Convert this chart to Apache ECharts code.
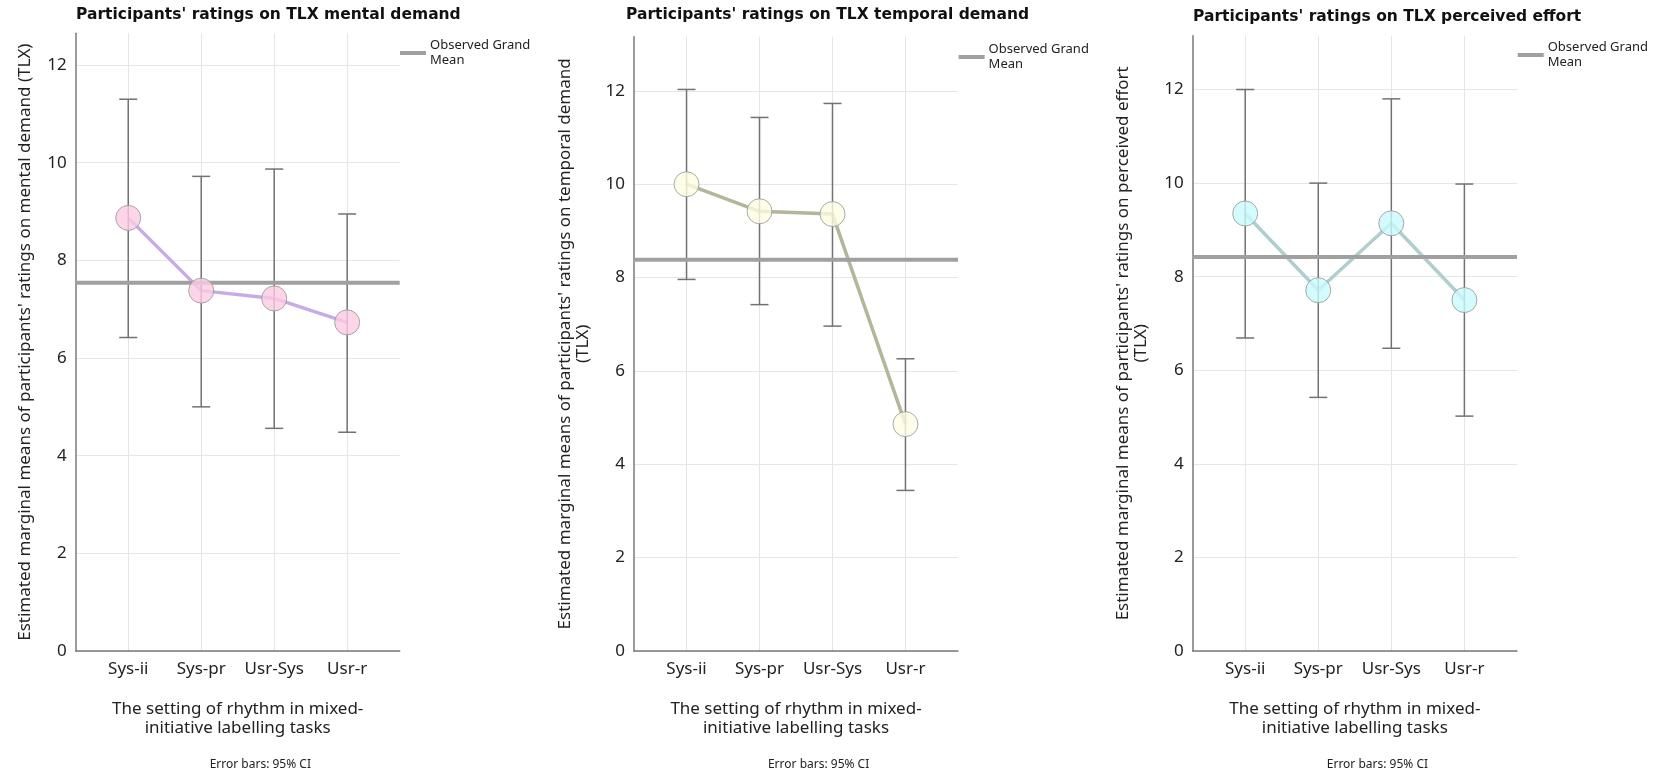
<!DOCTYPE html>
<html>
<head>
<meta charset="utf-8">
<title>TLX ratings</title>
<script src="https://cdn.jsdelivr.net/npm/echarts@6/dist/echarts.min.js"></script>
<style>
  html, body { margin: 0; padding: 0; background: #fff; }
  #chart { width: 1667px; height: 775px; }
</style>
</head>
<body>
<div id="chart"></div>
<script>
// categories on the x axis
const categories = ["Sys-ii", "Sys-pr", "Usr-Sys", "Usr-r"];
const yTicks = [0, 2, 4, 6, 8, 10, 12];

// mental demand
const mentalMean = [8.87, 7.38, 7.22, 6.73];
const mentalLow = [6.42, 5.0, 4.56, 4.48];
const mentalHigh = [11.3, 9.72, 9.87, 8.95];
const mentalGrand = 7.54;

// temporal demand
const temporalMean = [10.0, 9.42, 9.36, 4.86];
const temporalLow = [7.96, 7.42, 6.96, 3.44];
const temporalHigh = [12.03, 11.43, 11.73, 6.26];
const temporalGrand = 8.38;

// perceived effort
const effortMean = [9.35, 7.71, 9.14, 7.5];
const effortLow = [6.69, 5.42, 6.47, 5.02];
const effortHigh = [12.0, 10.0, 11.8, 9.98];
const effortGrand = 8.42;

const font = "Noto Sans";
const errColor = "#727272";

const panels = [
  {
    title: "Participants' ratings on TLX mental demand",
    yName: "Estimated marginal means of participants' ratings on mental demand (TLX)",
    mean: mentalMean, low: mentalLow, high: mentalHigh, grand: mentalGrand,
    yMax: 12.65,
    lineColor: "#c8abe6", fill: "#fdcbe3",
    grid: { left: 75.7, top: 33.3, width: 324 },
    titlePos: { left: 76, top: 7 },
    legendPos: { left: 400, top: 38 },
  },
  {
    title: "Participants' ratings on TLX temporal demand",
    yName: "Estimated marginal means of participants' ratings on temporal demand\n(TLX)",
    mean: temporalMean, low: temporalLow, high: temporalHigh, grand: temporalGrand,
    yMax: 13.16,
    lineColor: "#b5b599", fill: "#fdfde2",
    grid: { left: 634, top: 36.7, width: 324 },
    titlePos: { left: 626, top: 7 },
    legendPos: { left: 958.6, top: 42 },
  },
  {
    title: "Participants' ratings on TLX perceived effort",
    yName: "Estimated marginal means of participants' ratings on perceived effort\n(TLX)",
    mean: effortMean, low: effortLow, high: effortHigh, grand: effortGrand,
    yMax: 13.15,
    lineColor: "#b0cece", fill: "#c9fafc",
    grid: { left: 1192.6, top: 35.7, width: 324.4 },
    titlePos: { left: 1193, top: 9 },
    legendPos: { left: 1517.7, top: 40 },
  },
];

// error bar with caps
function renderErr(params, api) {
  const x = api.value(0);
  const lo = api.coord([x, api.value(1)]);
  const hi = api.coord([x, api.value(2)]);
  const half = 9;
  const style = { stroke: errColor, lineWidth: 1.5 };
  return {
    type: "group",
    children: [
      { type: "line", shape: { x1: lo[0], y1: lo[1], x2: hi[0], y2: hi[1] }, style: style },
      { type: "line", shape: { x1: lo[0] - half, y1: lo[1], x2: lo[0] + half, y2: lo[1] }, style: style },
      { type: "line", shape: { x1: hi[0] - half, y1: hi[1], x2: hi[0] + half, y2: hi[1] }, style: style },
    ],
  };
}

const option = {
  animation: false,
  backgroundColor: "#fff",
  title: [],
  legend: [],
  grid: [],
  xAxis: [],
  yAxis: [],
  series: [],
  graphic: [],
};

panels.forEach((p, i) => {
  option.title.push({
    text: p.title,
    left: p.titlePos.left,
    top: p.titlePos.top,
    padding: 0,
    textStyle: { fontFamily: "DejaVu Sans", fontWeight: "bold", fontSize: 15.5, color: "#111" },
  });
  option.legend.push({
    data: [{ name: "Observed Grand Mean", icon: "rect" }],
    left: p.legendPos.left,
    top: p.legendPos.top,
    padding: 0,
    itemWidth: 26,
    itemHeight: 4,
    itemGap: 4,
    selectedMode: false,
    formatter: () => "Observed Grand\nMean",
    textStyle: { fontFamily: font, fontSize: 13, lineHeight: 15, color: "#222", padding: [0, 0, 0, -1] },
  });
  option.grid.push({
    left: p.grid.left,
    top: p.grid.top,
    width: p.grid.width,
    bottom: 124,
  });
  option.xAxis.push({
    type: "value",
    gridIndex: i,
    min: -0.72,
    max: 3.72,
    name: "The setting of rhythm in mixed-\ninitiative labelling tasks",
    nameLocation: "middle",
    nameGap: 49,
    nameTextStyle: { fontFamily: font, fontSize: 17, lineHeight: 18.5, color: "#222" },
    axisLine: { show: true, onZero: false, lineStyle: { color: "#7a7a7a", width: 1.5 } },
    axisTick: { show: false, customValues: [0, 1, 2, 3] },
    axisLabel: {
      customValues: [0, 1, 2, 3],
      formatter: (v) => categories[Math.round(v)],
      margin: 10,
      fontFamily: font,
      fontSize: 17,
      color: "#222",
    },
    splitLine: { show: true, lineStyle: { color: "#e6e6e6", width: 1 } },
  });
  option.yAxis.push({
    type: "value",
    gridIndex: i,
    min: 0,
    max: p.yMax,
    name: p.yName,
    nameLocation: "middle",
    nameGap: 42,
    nameTextStyle: { fontFamily: font, fontSize: 17, lineHeight: 18, color: "#222" },
    axisLine: { show: true, onZero: false, lineStyle: { color: "#7a7a7a", width: 1.5 } },
    axisTick: { show: false, customValues: yTicks },
    axisLabel: { customValues: yTicks, margin: 9, fontFamily: font, fontSize: 17, color: "#222" },
    splitLine: { show: true, lineStyle: { color: "#e6e6e6", width: 1 } },
  });

  // connecting line
  option.series.push({
    type: "line",
    xAxisIndex: i,
    yAxisIndex: i,
    data: p.mean.map((v, k) => [k, v]),
    symbol: "none",
    lineStyle: { color: p.lineColor, width: 3.5 },
    z: 2,
  });
  // error bars
  option.series.push({
    type: "custom",
    xAxisIndex: i,
    yAxisIndex: i,
    renderItem: renderErr,
    data: p.mean.map((v, k) => [k, p.low[k], p.high[k]]),
    z: 3,
  });
  // grand mean
  option.series.push({
    name: "Observed Grand Mean",
    type: "line",
    xAxisIndex: i,
    yAxisIndex: i,
    data: [[-0.72, p.grand], [3.72, p.grand]],
    symbol: "none",
    color: "#a0a0a0",
    itemStyle: { color: "#a0a0a0" },
    lineStyle: { color: "#a0a0a0", width: 4 },
    z: 4,
  });
  // markers
  option.series.push({
    type: "scatter",
    xAxisIndex: i,
    yAxisIndex: i,
    data: p.mean.map((v, k) => [k, v]),
    symbol: "circle",
    symbolSize: 25,
    itemStyle: { color: p.fill, borderColor: "#939393", borderWidth: 1 },
    z: 5,
  });

  option.graphic.push({
    type: "text",
    x: p.grid.left + p.grid.width / 2 + 22.6,
    y: 764.5,
    style: {
      text: "Error bars: 95% CI",
      fontFamily: font,
      fontSize: 12,
      fill: "#222",
      textAlign: "center",
      textVerticalAlign: "middle",
    },
  });
});

const myChart = echarts.init(document.getElementById("chart"));
myChart.setOption(option);
</script>
</body>
</html>
